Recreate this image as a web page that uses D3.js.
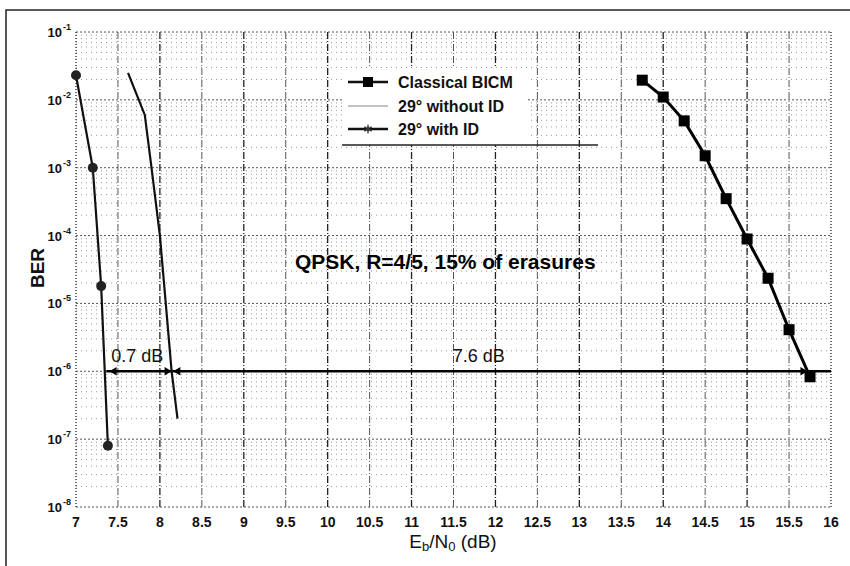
<!DOCTYPE html>
<html>
<head>
<meta charset="utf-8">
<script src="https://cdn.jsdelivr.net/npm/d3@7"></script>
<style>
  body { margin: 0; background: #fff; }
  text { font-family: "Liberation Sans", Arial, sans-serif; }
</style>
</head>
<body>
<svg id="chart" width="850" height="566"></svg>
<script>
// values
var xTicks = [7, 7.5, 8, 8.5, 9, 9.5, 10, 10.5, 11, 11.5, 12, 12.5, 13, 13.5, 14, 14.5, 15, 15.5, 16];
var yExponents = [-1, -2, -3, -4, -5, -6, -7, -8];

var bicmX = [13.75, 14, 14.25, 14.5, 14.75, 15, 15.25, 15.5, 15.75];
var bicmBer = [1.95e-2, 1.1e-2, 4.9e-3, 1.5e-3, 3.5e-4, 8.9e-5, 2.35e-5, 4.1e-6, 8.3e-7];

var noIdX = [7.62, 7.82, 7.9, 8.0, 8.07, 8.14, 8.21];
var noIdBer = [2.5e-2, 6e-3, 1e-3, 1e-4, 1e-5, 1e-6, 2e-7];

var withIdX = [7, 7.2, 7.3, 7.38];
var withIdBer = [2.3e-2, 1e-3, 1.8e-5, 8e-8];

var legendLabels = ["Classical BICM", "29\u00b0 without ID", "29\u00b0 with ID"];
var gapLabels = ["0.7 dB", "7.6 dB"];
var gapLabelX = [7.73, 11.8];
var gapX = [[7.42, 8.12], [8.18, 15.7]];
var refBer = 1e-6;

var svg = d3.select("#chart");

var x = d3.scaleLinear().domain([7, 16]).range([76, 831]);
var y = d3.scaleLog().domain([1e-8, 1e-1]).range([507, 32]);

// outer figure frame (only left & top survived the scan)
svg.append("path")
  .attr("d", "M6,566V10H850")
  .attr("fill", "none").attr("stroke", "#222").attr("stroke-width", 1.5);

// horizontal grid, decades + minor
var minor = [];
for (var e = -8; e < -1; e++) {
  for (var m = 2; m <= 9; m++) minor.push(m * Math.pow(10, e));
}
svg.append("g").selectAll("line").data(minor).join("line")
  .attr("x1", x(7)).attr("x2", x(16))
  .attr("y1", function(d){ return y(d); }).attr("y2", function(d){ return y(d); })
  .attr("stroke", "#999").attr("stroke-width", 1).attr("stroke-dasharray", "1,4");
svg.append("g").selectAll("line").data(yExponents).join("line")
  .attr("x1", x(7)).attr("x2", x(16))
  .attr("y1", function(d){ return y(Math.pow(10, d)); }).attr("y2", function(d){ return y(Math.pow(10, d)); })
  .attr("stroke", "#555").attr("stroke-width", 1).attr("stroke-dasharray", "2,2");

// vertical grid every 0.5 dB
svg.append("g").selectAll("line").data(xTicks).join("line")
  .attr("x1", function(d){ return x(d); }).attr("x2", function(d){ return x(d); })
  .attr("y1", y(1e-1)).attr("y2", y(1e-8))
  .attr("stroke", function(d){ return (d % 1 === 0) ? "#222" : "#555"; })
  .attr("stroke-width", function(d){ return (d % 1 === 0) ? 1.3 : 1; })
  .attr("stroke-dasharray", function(d){ return (d === 7 || d === 16) ? "1,2" : "7,2,1,2"; });

// x tick labels
svg.append("g").selectAll("text").data(xTicks).join("text")
  .attr("x", function(d){ return x(d); }).attr("y", 527)
  .attr("text-anchor", "middle")
  .attr("font-size", 14).attr("font-weight", "bold").attr("fill", "#111")
  .text(function(d){ return d; });

// y tick labels 10^n
var yl = svg.append("g").selectAll("text").data(yExponents).join("text")
  .attr("x", 71).attr("y", function(d){ return y(Math.pow(10, d)) + 5; })
  .attr("text-anchor", "end")
  .attr("font-size", 13).attr("font-weight", "bold").attr("fill", "#111");
yl.append("tspan").text("10");
yl.append("tspan").attr("dy", -7).attr("dx", 1).attr("font-size", 9).text(function(d){ return d; });

// axis titles
svg.append("text")
  .attr("transform", "translate(44,268) rotate(-90)")
  .attr("text-anchor", "middle")
  .attr("font-size", 19).attr("font-weight", "bold").attr("fill", "#111")
  .text("BER");
var xt = svg.append("text")
  .attr("x", 453).attr("y", 548)
  .attr("text-anchor", "middle")
  .attr("font-size", 19).attr("fill", "#111");
xt.append("tspan").text("E");
xt.append("tspan").attr("font-size", 13).attr("dy", 3).text("b");
xt.append("tspan").attr("dy", -3).text("/N");
xt.append("tspan").attr("font-size", 13).attr("dy", 3).text("0");
xt.append("tspan").attr("dy", -3).text(" (dB)");

var line = d3.line()
  .x(function(d){ return x(d[0]); })
  .y(function(d){ return y(d[1]); });

// 10^-6 reference line with the gap arrows
svg.append("line")
  .attr("x1", x(7.36)).attr("x2", x(16))
  .attr("y1", y(refBer)).attr("y2", y(refBer))
  .attr("stroke", "#000").attr("stroke-width", 2.5);

var head = d3.symbol().type(d3.symbolTriangle).size(30);
gapX.forEach(function(g, i) {
  [g[0], g[1]].forEach(function(v, j) {
    svg.append("path")
      .attr("d", head())
      .attr("transform", "translate(" + (x(v) + (j === 0 ? 3 : -3)) + "," + y(refBer) + ") rotate(" + (j === 0 ? -90 : 90) + ")")
      .attr("fill", "#000");
  });
  svg.append("text")
    .attr("x", x(gapLabelX[i])).attr("y", y(refBer) - 9)
    .attr("text-anchor", "middle")
    .attr("font-size", 18).attr("fill", "#111")
    .text(gapLabels[i]);
});

// curves
var withId = d3.zip(withIdX, withIdBer);
var noId = d3.zip(noIdX, noIdBer);
var bicm = d3.zip(bicmX, bicmBer);

svg.append("path").datum(noId).attr("d", line)
  .attr("fill", "none").attr("stroke", "#111").attr("stroke-width", 2.2);

svg.append("path").datum(withId).attr("d", line)
  .attr("fill", "none").attr("stroke", "#111").attr("stroke-width", 2.2);
svg.append("g").selectAll("circle").data(withId).join("circle")
  .attr("cx", function(d){ return x(d[0]); }).attr("cy", function(d){ return y(d[1]); })
  .attr("r", 5).attr("fill", "#222");

svg.append("path").datum(bicm).attr("d", line)
  .attr("fill", "none").attr("stroke", "#000").attr("stroke-width", 3);
svg.append("g").selectAll("rect").data(bicm).join("rect")
  .attr("x", function(d){ return x(d[0]) - 5.5; }).attr("y", function(d){ return y(d[1]) - 5.5; })
  .attr("width", 11).attr("height", 11).attr("fill", "#000");

// legend
var leg = svg.append("g");
leg.append("rect").attr("x", 342).attr("y", 68).attr("width", 185).attr("height", 77).attr("fill", "#fff");
leg.append("line").attr("x1", 342).attr("x2", 598).attr("y1", 145).attr("y2", 145)
  .attr("stroke", "#222").attr("stroke-width", 1.5);

var legY = [82, 106, 129];
legendLabels.forEach(function(lab, i) {
  var yy = legY[i];
  leg.append("line").attr("x1", 348).attr("x2", 388).attr("y1", yy).attr("y2", yy)
    .attr("stroke", i === 1 ? "#888" : "#111").attr("stroke-width", i === 1 ? 1 : 2.5);
  if (i === 0) {
    leg.append("rect").attr("x", 363).attr("y", yy - 5).attr("width", 10).attr("height", 10).attr("fill", "#000");
  } else if (i === 2) {
    leg.append("path").attr("d", d3.symbol().type(d3.symbolAsterisk || d3.symbolCross).size(50)())
      .attr("transform", "translate(368," + yy + ")")
      .attr("fill", "none").attr("stroke", "#333").attr("stroke-width", 1.5);
  }
  leg.append("text").attr("x", 398).attr("y", yy + 6)
    .attr("font-size", 16).attr("font-weight", "bold").attr("fill", "#111")
    .text(lab);
});

// annotation
svg.append("text")
  .attr("x", 295).attr("y", 269)
  .attr("font-size", 21).attr("font-weight", "bold").attr("fill", "#000")
  .text("QPSK, R=4/5, 15% of erasures");
</script>
</body>
</html>
